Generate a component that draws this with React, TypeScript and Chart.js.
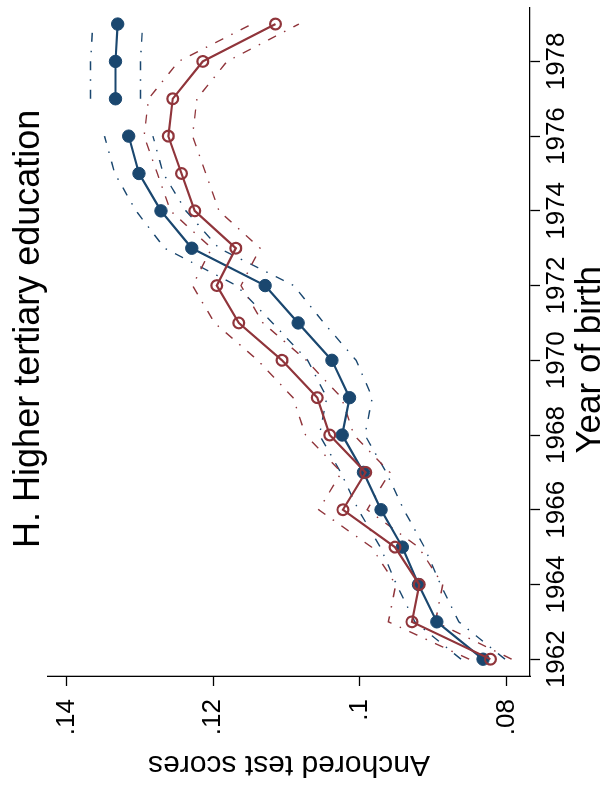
import React, { useEffect, useRef } from "react";
import { Chart, registerables } from "chart.js";

Chart.register(...registerables);

// ---------- data ----------
const years = [1962, 1963, 1964, 1965, 1966, 1967, 1968, 1969, 1970, 1971, 1972, 1973, 1974, 1975, 1976, 1977, 1978, 1979];
const yearTicks = [1962, 1964, 1966, 1968, 1970, 1972, 1974, 1976, 1978];
const scoreTicks = [0.08, 0.1, 0.12, 0.14];

// blue (filled circles)
const blueEst = [0.0832, 0.0895, 0.092, 0.0942, 0.0971, 0.0995, 0.1024, 0.1014, 0.1038, 0.1084, 0.1129, 0.1229, 0.1271, 0.1301, 0.1315, 0.1333, 0.1333, 0.133];
const blueLo = [0.0802, 0.0865, 0.089, 0.0912, 0.094, 0.0964, 0.0993, 0.0983, 0.1005, 0.1049, 0.109, 0.1192, 0.1237, 0.1268, 0.1282, 0.1299, 0.1299, 0.1296];
const blueHi = [0.0862, 0.0925, 0.095, 0.0972, 0.1002, 0.1026, 0.1055, 0.1045, 0.1071, 0.1119, 0.1168, 0.1266, 0.1305, 0.1334, 0.1348, 0.1367, 0.1367, 0.1364];
// blue series is not connected between these two cohorts
const blueFirstEnd = 1976;
const blueSecondStart = 1977;

// red (hollow circles)
const redEst = [0.0822, 0.0929, 0.0919, 0.0952, 0.1023, 0.0992, 0.1041, 0.1058, 0.1106, 0.1165, 0.1195, 0.1169, 0.1225, 0.1243, 0.1261, 0.1255, 0.1214, 0.1115];
const redLo = [0.0793, 0.0897, 0.0887, 0.092, 0.099, 0.0959, 0.1008, 0.1025, 0.1073, 0.1132, 0.1162, 0.1136, 0.1192, 0.121, 0.1228, 0.1222, 0.1181, 0.1083];
const redHi = [0.0851, 0.0961, 0.0951, 0.0984, 0.1056, 0.1025, 0.1074, 0.1091, 0.1139, 0.1198, 0.1228, 0.1202, 0.1258, 0.1276, 0.1294, 0.1288, 0.1247, 0.1147];

const TITLE = "H. Higher tertiary education";
const X_TITLE = "Year of birth";
const Y_TITLE = "Anchored test scores";

// ---------- styles ----------
const NAVY = "#1a476f";
const MAROON = "#90353b";
const FONT = "'Liberation Sans', Arial, Helvetica, sans-serif";
const CI_DASH = [9, 9, 1.5, 9];

function series(vals: number[], from = -Infinity, to = Infinity) {
  return years
    .map((x, i) => ({ x, y: vals[i] }))
    .filter((p) => p.x >= from && p.x <= to);
}

function ciLine(vals: number[], color: string, from?: number, to?: number) {
  return {
    data: series(vals, from, to),
    borderColor: color,
    borderWidth: 1.4,
    borderDash: CI_DASH,
    pointRadius: 0,
    fill: false,
    tension: 0,
  };
}

function fmtScore(v: number) {
  return String(Number(v.toFixed(2))).replace(/^0/, "");
}

// draws the graph title and the x-axis title (placed like the original figure)
const textPlugin = {
  id: "stataTexts",
  afterDraw(chart: any) {
    const { ctx, chartArea } = chart;
    const mid = (chartArea.left + chartArea.right) / 2;
    ctx.save();
    ctx.fillStyle = "#000";
    ctx.textAlign = "center";
    ctx.textBaseline = "alphabetic";
    ctx.font = `36px ${FONT}`;
    ctx.fillText(TITLE, mid + 13, 39);
    ctx.font = `35px ${FONT}`;
    ctx.fillText(X_TITLE, mid - 18, chart.height - 4);
    ctx.restore();
  },
};

export default function App() {
  const ref = useRef<HTMLCanvasElement | null>(null);

  useEffect(() => {
    if (!ref.current) return;
    const blueMain = {
      borderColor: NAVY,
      backgroundColor: NAVY,
      borderWidth: 2.2,
      pointRadius: 6.2,
      pointBorderWidth: 1,
      pointBackgroundColor: NAVY,
      pointBorderColor: NAVY,
      tension: 0,
    };
    const chart = new Chart(ref.current, {
      type: "line",
      data: {
        datasets: [
          {
            data: series(redEst),
            borderColor: MAROON,
            borderWidth: 2.2,
            pointRadius: 5.4,
            pointBorderWidth: 2.2,
            pointBackgroundColor: "rgba(0,0,0,0)",
            pointBorderColor: MAROON,
            tension: 0,
          },
          { ...blueMain, data: series(blueEst, -Infinity, blueFirstEnd) },
          { ...blueMain, data: series(blueEst, blueSecondStart, Infinity) },
          ciLine(redLo, MAROON),
          ciLine(redHi, MAROON),
          ciLine(blueLo, NAVY, -Infinity, blueFirstEnd),
          ciLine(blueHi, NAVY, -Infinity, blueFirstEnd),
          ciLine(blueLo, NAVY, blueSecondStart, Infinity),
          ciLine(blueHi, NAVY, blueSecondStart, Infinity),
        ] as any,
      },
      plugins: [textPlugin],
      options: {
        responsive: false,
        devicePixelRatio: 1,
        animation: false,
        layout: { padding: { top: 48, right: 3, bottom: 0, left: 0 } },
        plugins: {
          legend: { display: false },
          tooltip: { enabled: false },
          title: { display: false },
        },
        scales: {
          x: {
            type: "linear",
            position: "bottom",
            min: 1961.55,
            max: 1979.44,
            afterBuildTicks: (s: any) => {
              s.ticks = yearTicks.map((v) => ({ value: v }));
            },
            afterFit: (s: any) => {
              s.height = 74;
            },
            ticks: {
              callback: (v: any) => String(v),
              color: "#000",
              font: { family: FONT, size: 26 },
              padding: 1,
              maxRotation: 0,
              autoSkip: false,
            },
            grid: {
              display: true,
              drawOnChartArea: false,
              drawTicks: true,
              tickLength: 10,
              tickColor: "#000",
              tickWidth: 1.3,
            },
            border: { display: true, color: "#000", width: 1.3 },
            title: { display: false },
          },
          y: {
            type: "linear",
            position: "left",
            min: 0.0768,
            max: 0.1425,
            afterBuildTicks: (s: any) => {
              s.ticks = scoreTicks.map((v) => ({ value: v }));
            },
            afterFit: (s: any) => {
              s.width = 113;
            },
            ticks: {
              callback: (v: any) => fmtScore(Number(v)),
              color: "#000",
              font: { family: FONT, size: 26 },
              padding: 13,
              autoSkip: false,
            },
            grid: {
              display: true,
              drawOnChartArea: false,
              drawTicks: true,
              tickLength: 10,
              tickColor: "#000",
              tickWidth: 1.3,
            },
            border: { display: true, color: "#000", width: 1.3 },
            title: {
              display: true,
              text: Y_TITLE,
              color: "#000",
              font: { family: FONT, size: 30, lineHeight: 1 },
              padding: { top: 10, bottom: 0 },
            },
          },
        },
      } as any,
    });
    return () => chart.destroy();
  }, []);

  return (
    <div
      style={{
        position: "fixed",
        left: 0,
        top: 0,
        width: 604,
        height: 789,
        overflow: "hidden",
        background: "#fff",
      }}
    >
      <div
        style={{
          position: "absolute",
          left: 0,
          top: 0,
          width: 789,
          height: 604,
          transformOrigin: "0 0",
          transform: "translate(0px, 789px) rotate(-90deg)",
        }}
      >
        <canvas ref={ref} width={789} height={604} style={{ display: "block", width: 789, height: 604 }} />
      </div>
    </div>
  );
}
